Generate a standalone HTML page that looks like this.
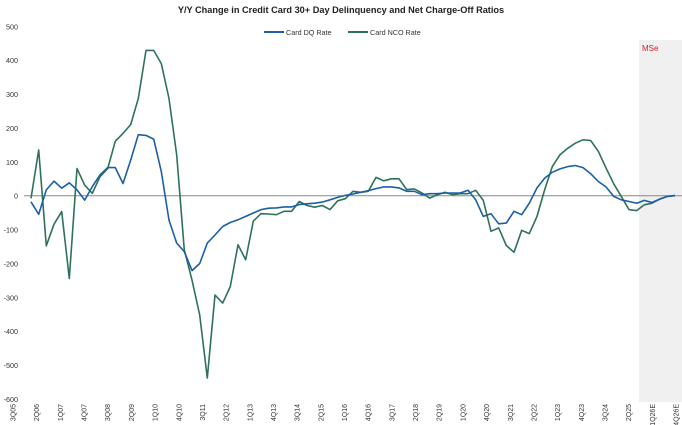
<!DOCTYPE html>
<html><head><meta charset="utf-8"><style>
html,body{margin:0;padding:0;background:#fff;}
svg{display:block;font-family:"Liberation Sans",sans-serif;}
</style></head><body>
<svg id="chart" width="682" height="425" viewBox="0 0 682 425" xmlns="http://www.w3.org/2000/svg">
<rect x="639" y="40" width="43" height="362" fill="#f0f0f0"/>
<text x="642" y="51" font-size="8" fill="#d0202a">MSe</text>
<text x="341" y="13" font-size="9.2" font-weight="bold" text-anchor="middle" fill="#222">Y/Y Change in Credit Card 30+ Day Delinquency and Net Charge-Off Ratios</text>
<g>
<line x1="264" y1="32" x2="284" y2="32" stroke="#1a5fa8" stroke-width="2"/>
<text x="286" y="35" font-size="7.2" fill="#333">Card DQ Rate</text>
<line x1="348" y1="32" x2="368" y2="32" stroke="#2e7358" stroke-width="2"/>
<text x="370" y="35" font-size="7.2" fill="#333">Card NCO Rate</text>
</g>
<g id="yaxis"></g>
<g id="xaxis"></g>
<g id="series"></g>
</svg>
<script>
const dqValues = [-18,-55,17,43,22,38,17,-13,27,61,83,83,36,105,180,178,167,71,-72,-140,-165,-221,-200,-140,-116,-91,-79,-71,-61,-51,-41,-37,-36,-33,-33,-26,-24,-22,-19,-12,-5,1,5,10,15,21,26,26,23,13,13,3,6,6,8,8,8,16,-12,-61,-53,-83,-81,-46,-56,-22,23,52,69,79,86,89,83,65,42,26,-2,-12,-17,-22,-14,-20,-10,-2,1];
const ncoValues = [-8,135,-148,-84,-47,-244,80,31,7,56,80,161,184,210,287,429,429,390,287,120,-160,-249,-352,-538,-293,-317,-268,-145,-189,-75,-53,-54,-56,-46,-46,-17,-29,-34,-29,-41,-15,-9,13,10,13,54,44,50,50,18,20,8,-7,3,10,3,6,6,16,-14,-105,-95,-147,-167,-102,-112,-61,18,86,121,140,155,165,163,131,82,35,-2,-41,-44,-27,-22,-10,-2,0];
const yTicks = [500,400,300,200,100,0,-100,-200,-300,-400,-500,-600];
const xLabels = ["3Q05","2Q06","1Q07","4Q07","3Q08","2Q09","1Q10","4Q10","3Q11","2Q12","1Q13","4Q13","3Q14","2Q15","1Q16","4Q16","3Q17","2Q18","2Q19","1Q20","4Q20","3Q21","2Q22","1Q23","4Q23","3Q24","2Q25","1Q26E","4Q26E"];
const NS="http://www.w3.org/2000/svg";
function yScale(v){return 195.7-(v)*0.3388;}
function xScale(i){return 31+i*(644/84);}
function labelX(k){return 13+k*(663/28);}
const ya=document.getElementById('yaxis');
yTicks.forEach(t=>{
  const el=document.createElementNS(NS,'text');
  
  
  el.setAttribute('x',18);el.setAttribute('y',yScale(t)+3);
  el.setAttribute('font-size','7.2');el.setAttribute('text-anchor','end');el.setAttribute('fill','#333');
  el.textContent=t;ya.appendChild(el);
});
const zl=document.createElementNS(NS,'line');


zl.setAttribute('x1',24);zl.setAttribute('x2',682);zl.setAttribute('y1',yScale(0));zl.setAttribute('y2',yScale(0));
zl.setAttribute('stroke','#888');zl.setAttribute('stroke-width','1');ya.appendChild(zl);
const xa=document.getElementById('xaxis');
xLabels.forEach((l,k)=>{
  const el=document.createElementNS(NS,'text');
  
  
  const x=labelX(k)+2.5,y=404;
  el.setAttribute('x',x);el.setAttribute('y',y);
  el.setAttribute('transform','rotate(-90 '+x+' '+y+')');
  el.setAttribute('font-size','7');el.setAttribute('text-anchor','end');el.setAttribute('fill','#333');
  el.textContent=l;xa.appendChild(el);
});
const sg=document.getElementById('series');
function drawLine(vals,color,name){
  const d=vals.map((v,i)=>(i?'L':'M')+xScale(i).toFixed(1)+' '+yScale(v).toFixed(1)).join(' ');
  const p=document.createElementNS(NS,'path');
  
  
  p.setAttribute('d',d);p.setAttribute('fill','none');p.setAttribute('stroke',color);
  p.setAttribute('stroke-width','1.6');p.setAttribute('stroke-linejoin','round');
  sg.appendChild(p);
}
drawLine(ncoValues,'#2e7358','nco-line');
drawLine(dqValues,'#1a5fa8','dq-line');
</script>
</body></html>
